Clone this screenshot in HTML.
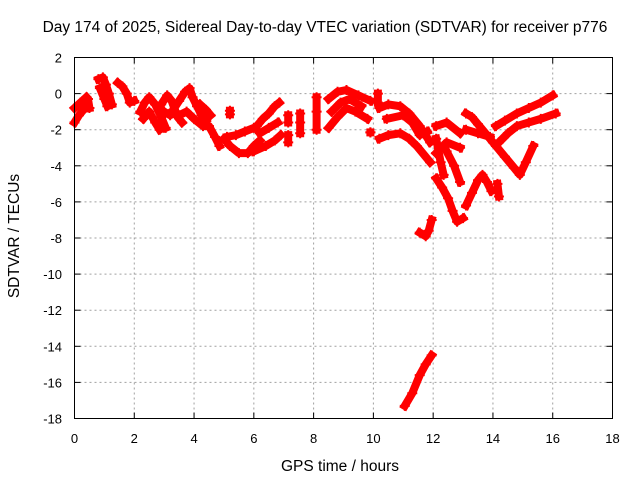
<!DOCTYPE html>
<html><head><meta charset="utf-8"><style>
html,body{margin:0;padding:0;background:#fff;width:640px;height:480px;overflow:hidden}
svg{font-family:"Liberation Sans",sans-serif;font-size:13px}
.big{font-size:15.5px}
</style></head><body>
<svg id="chart" width="640" height="480" xmlns="http://www.w3.org/2000/svg">
<text class="big" x="325" y="32" text-anchor="middle">Day 174 of 2025, Sidereal Day-to-day VTEC variation (SDTVAR) for receiver p776</text>
<text class="big" x="340" y="471" text-anchor="middle">GPS time / hours</text>
<text class="big" transform="translate(19,236) rotate(-90)" text-anchor="middle">SDTVAR / TECUs</text>
<g id="grid"></g>
<g id="ticks"></g>
<g id="marks"></g>
<rect x="74.5" y="57.5" width="538" height="361" fill="none" stroke="#000" stroke-width="1"/>
</svg>
<script>
const xTicks=[0,2,4,6,8,10,12,14,16,18];
const yTicks=[2,0,-2,-4,-6,-8,-10,-12,-14,-16,-18];
const tracks=[
[[0,-1.6],[0.15,-1.2],[0.3,-0.9],[0.45,-0.3],[0.5,-0.8]],
[[0,-0.8],[0.2,-0.5],[0.4,-0.2]],
[[0.8,0.8],[0.95,0.9],[1.05,0.5],[1.15,0],[1.25,-0.6]],
[[0.85,0.3],[1.0,-0.3],[1.1,-0.7]],
[[1.45,0.6],[1.6,0.4],[1.75,0.0],[1.85,-0.5],[2.0,-0.4]],
[[2.2,-1.0],[2.35,-0.5],[2.5,-0.2],[2.7,-0.6],[2.9,-1.3],[3.05,-1.9]],
[[2.3,-1.4],[2.5,-1.0],[2.7,-1.6],[2.85,-2.0]],
[[2.9,-0.6],[3.1,-0.1],[3.25,-0.4],[3.45,-1.3],[3.6,-1.6]],
[[3.0,-1.0],[3.2,-1.2],[3.3,-0.9],[3.5,-0.4],[3.7,0.1],[3.85,0.3],[3.95,-0.2],[4.1,-0.7],[4.25,-1.2],[4.4,-1.5]],
[[3.5,-1.2],[3.75,-1.0],[4.0,-1.4],[4.3,-1.8],[4.5,-1.8],[4.7,-2.4],[4.85,-2.9]],
[[4.2,-0.6],[4.4,-0.9],[4.55,-1.2]],
[[5.2,-0.95],[5.2,-1.15]],
[[5.0,-2.5],[5.2,-2.9],[5.5,-3.3],[5.8,-3.3],[6.0,-2.9],[6.2,-2.6]],
[[5.1,-2.4],[5.4,-2.3],[5.7,-2.1],[6.0,-1.9]],
[[6.1,-1.8],[6.3,-1.4],[6.5,-1.1],[6.7,-0.7],[6.85,-0.5]],
[[6.2,-2.2],[6.5,-1.9],[6.8,-1.6]],
[[6.0,-3.2],[6.4,-2.9],[6.7,-2.6],[6.9,-2.3]],
[[7.15,-1.2],[7.15,-1.6]],
[[7.15,-2.3],[7.15,-2.7]],
[[7.55,-1.1],[7.55,-1.6],[7.55,-2.2]],
[[8.1,-0.2],[8.1,-1.0],[8.1,-2.0]],
[[8.5,-0.3],[8.8,0.1],[9.1,0.2],[9.5,-0.1],[9.9,-0.4]],
[[8.5,-1.9],[8.8,-1.3],[9.1,-0.8],[9.4,-1.0],[9.8,-1.4]],
[[8.6,-1.0],[8.9,-0.5],[9.2,-0.3],[9.6,-0.7]],
[[10.15,0],[10.15,-0.5]],
[[9.9,-2.15],[9.9,-2.15]],
[[10.2,-0.8],[10.5,-0.6],[10.9,-0.7],[11.2,-1.1],[11.55,-1.8],[11.9,-2.7]],
[[10.2,-2.5],[10.5,-2.3],[10.9,-2.2],[11.2,-2.5],[11.45,-2.9],[11.9,-3.8]],
[[10.45,-1.4],[11.0,-1.2],[11.3,-1.6],[11.55,-2.3],[11.8,-2.1]],
[[12.1,-1.8],[12.45,-1.6],[12.9,-2.2]],
[[12.1,-3.3],[12.45,-2.7],[12.9,-3.0]],
[[12.45,-3.2],[12.7,-4.0],[12.9,-4.9]],
[[12.1,-2.5],[12.25,-3.8],[12.35,-4.5]],
[[13.1,-1.1],[13.3,-1.3],[13.5,-1.7],[13.75,-2.2],[14.0,-2.7]],
[[13.1,-2.0],[13.5,-2.2],[13.9,-2.4]],
[[12.1,-4.7],[12.3,-5.2],[12.5,-5.8],[12.65,-6.5],[12.8,-7.1],[13.0,-6.9]],
[[13.1,-6.2],[13.3,-5.5],[13.5,-4.8],[13.65,-4.5],[13.8,-4.9],[13.95,-5.4]],
[[14.15,-5.0],[14.2,-5.7]],
[[14.1,-1.8],[14.4,-1.5],[14.8,-1.1],[15.2,-0.8],[15.6,-0.5],[16.0,-0.1]],
[[14.2,-2.7],[14.5,-2.2],[14.8,-1.8],[15.2,-1.6],[15.6,-1.4],[16.1,-1.1]],
[[14.1,-2.9],[14.4,-3.5],[14.7,-4.1],[14.9,-4.5],[15.1,-3.8],[15.35,-2.9]],
[[11.55,-7.7],[11.75,-7.9],[11.85,-7.6],[11.95,-7.0]],
[[11.05,-17.3],[11.3,-16.6],[11.55,-15.6],[11.75,-15.0],[11.95,-14.5]]
];
const NS='http://www.w3.org/2000/svg';
const X0=74.5,X1=612.5,Y0=418.5,Y1=57.5;
const xs=h=>X0+(h-0)/(18-0)*(X1-X0);
const ys=v=>Y0-(v-(-18))/(2-(-18))*(Y0-Y1);
const grid=document.getElementById('grid'),ticks=document.getElementById('ticks'),marks=document.getElementById('marks');
function mk(tag,attrs,parent){const e=document.createElementNS(NS,tag);for(const k in attrs)e.setAttribute(k,attrs[k]);parent.appendChild(e);return e;}
xTicks.forEach(t=>{const x=xs(t);
 if(t>0&&t<18){const g=mk('line',{x1:x,x2:x,y1:Y1,y2:Y0,stroke:'#a0a0a0','stroke-dasharray':'2,3'},grid);
 
 }
 mk('line',{x1:x,x2:x,y1:Y0,y2:Y0-6,stroke:'#000'},ticks);
 mk('line',{x1:x,x2:x,y1:Y1,y2:Y1+6,stroke:'#000'},ticks);
 const tx=mk('text',{x:x,y:443,'text-anchor':'middle'},ticks);tx.textContent=t;
 
 
});
yTicks.forEach(t=>{const y=ys(t);
 if(t<2&&t>-18){const g=mk('line',{x1:X0,x2:X1,y1:y,y2:y,stroke:'#a0a0a0','stroke-dasharray':'2,3'},grid);
 
 }
 mk('line',{x1:X0,x2:X0+6,y1:y,y2:y,stroke:'#000'},ticks);
 mk('line',{x1:X1,x2:X1-6,y1:y,y2:y,stroke:'#000'},ticks);
 const tx=mk('text',{x:62,y:y+5,'text-anchor':'end'},ticks);tx.textContent=t;
 
 
});
tracks.forEach(tr=>{
 const pl=mk('polyline',{points:tr.map(p=>xs(p[0])+','+ys(p[1])).join(' '),fill:'none',stroke:'#ff0000','stroke-width':8,'stroke-linejoin':'round','stroke-linecap':'square'},marks);
 
 
 tr.forEach(p=>{const x=xs(p[0]),y=ys(p[1]);
  const m=mk('path',{d:`M${x-5},${y}H${x+5}M${x},${y-5}V${y+5}`,stroke:'#ff0000','stroke-width':2},marks);
  
  
 });
});
</script>
</body></html>
